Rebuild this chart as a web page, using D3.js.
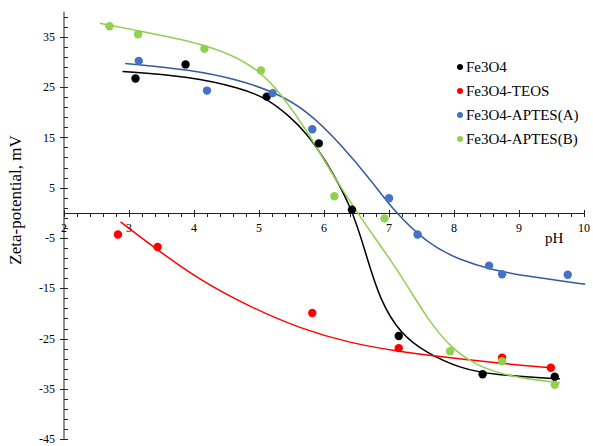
<!DOCTYPE html>
<html>
<head>
<meta charset="utf-8">
<script src="https://cdnjs.cloudflare.com/ajax/libs/d3/7.8.5/d3.min.js"></script>
<style>
  body { margin: 0; background: #fff; }
  text { font-family: "Liberation Serif", "Times New Roman", serif; }
</style>
</head>
<body>
<div class="chart"></div>
<script>
var w = 593,
  h = 446;

// measured points (pH, zeta potential mV)
var phFe3O4 = [3.1, 3.87, 5.12, 5.92, 6.43, 7.15, 8.44, 9.55];
var zetaFe3O4 = [26.7, 29.5, 23.1, 13.8, 0.6, -24.5, -32.1, -32.6];

var phTeos = [2.83, 3.44, 5.82, 7.15, 8.74, 9.49];
var zetaTeos = [-4.3, -6.8, -19.9, -26.9, -28.8, -30.8];

var phAptesA = [3.15, 4.2, 5.21, 5.82, 7.0, 7.44, 8.54, 8.74, 9.75];
var zetaAptesA = [30.2, 24.3, 23.8, 16.6, 2.9, -4.3, -10.5, -12.2, -12.3];

var phAptesB = [2.7, 3.14, 4.16, 5.03, 6.16, 6.93, 7.94, 8.74, 9.55];
var zetaAptesB = [37.1, 35.5, 32.6, 28.3, 3.3, -1.1, -27.5, -29.5, -34.2];

// trend lines
var fitPhFe3O4 = [2.9, 3.94, 4.71, 5.12, 5.48, 5.73, 5.99, 6.43, 6.65, 6.86, 7.17, 7.58, 8.09, 8.6, 9.63];
var fitZetaFe3O4 = [28.1, 27.1, 24.8, 22.8, 19.1, 15.8, 11.2, 1.2, -8.5, -17.3, -24, -27.9, -30.9, -32.2, -33.0];

var fitPhTeos = [2.87, 3.44, 4.09, 4.86, 5.63, 6.4, 7.17, 7.58, 8.6, 9.5];
var fitZetaTeos = [-1.8, -7.4, -13.4, -18.7, -23.0, -25.9, -27.6, -28.3, -29.8, -30.8];

var fitPhAptesA = [2.94, 3.94, 4.71, 5.27, 5.73, 6.25, 6.76, 7.02, 7.58, 8.09, 8.6, 9.12, 10.02];
var fitZetaAptesA = [29.7, 28.5, 26.4, 23.8, 20.4, 13.8, 5.9, 1.2, -6.1, -9.4, -11.4, -12.6, -14.2];

var fitPhAptesB = [2.55, 3.14, 3.94, 4.55, 5.03, 5.37, 5.73, 6.09, 6.5, 7.07, 7.32, 7.58, 7.94, 8.35, 8.86, 9.63];
var fitZetaAptesB = [37.7, 36.2, 34.2, 31.7, 28.1, 23.1, 16.5, 8.5, 0.2, -10.2, -15.3, -20.8, -26.8, -30.4, -32.6, -33.8];

var names = ['Fe3O4', 'Fe3O4-TEOS', 'Fe3O4-APTES(A)', 'Fe3O4-APTES(B)'];
var dotColors = ['#000000', '#ff0000', '#4472c4', '#92d050'];
var lineColors = ['#000000', '#ff0000', '#355a9b', '#92d050'];

var xMajor = [2, 3, 4, 5, 6, 7, 8, 9, 10];
var yMajor = [35, 25, 15, 5, -5, -15, -25, -35, -45];

var zip = function (xs, ys) {
  return xs.map(function (x, i) { return [x, ys[i]]; });
};

var series = [
  { pts: zip(phFe3O4, zetaFe3O4), fit: zip(fitPhFe3O4, fitZetaFe3O4) },
  { pts: zip(phTeos, zetaTeos), fit: zip(fitPhTeos, fitZetaTeos) },
  { pts: zip(phAptesA, zetaAptesA), fit: zip(fitPhAptesA, fitZetaAptesA) },
  { pts: zip(phAptesB, zetaAptesB), fit: zip(fitPhAptesB, fitZetaAptesB) }
];

var x = d3.scaleLinear().domain([2, 10]).range([64, 584]);
var y = d3.scaleLinear().domain([-45, 40]).range([439.2, 11.6]);

var svg = d3.select('.chart')
  .append('svg')
  .attr('width', w)
  .attr('height', h);

// y axis: minor ticks every 2 units on the right, majors cross
var yAxisG = svg.append('g').attr('transform', 'translate(' + x(2) + ',0)');
yAxisG.append('line')
  .attr('y1', y(40)).attr('y2', y(-45))
  .attr('stroke', '#222').attr('stroke-width', 1);
yAxisG.selectAll('.minor')
  .data(d3.range(-43, 40, 2))
  .enter().append('line')
  .attr('x1', 0).attr('x2', 4)
  .attr('y1', function (d) { return Math.round(y(d)) + 0.5; })
  .attr('y2', function (d) { return Math.round(y(d)) + 0.5; })
  .attr('stroke', '#222');
yAxisG.selectAll('.major')
  .data(yMajor)
  .enter().append('line')
  .attr('x1', -4).attr('x2', 4)
  .attr('y1', function (d) { return Math.round(y(d)) + 0.5; })
  .attr('y2', function (d) { return Math.round(y(d)) + 0.5; })
  .attr('stroke', '#222');
yAxisG.selectAll('text')
  .data(yMajor)
  .enter().append('text')
  .attr('x', -9)
  .attr('y', function (d) { return y(d); })
  .attr('dy', '0.35em')
  .attr('text-anchor', 'end')
  .attr('font-size', '12px')
  .text(function (d) { return d; });

// x axis at zero
var xAxisG = svg.append('g').attr('transform', 'translate(0,' + (Math.round(y(0)) + 0.5) + ')');
xAxisG.append('line')
  .attr('x1', x(2)).attr('x2', x(10))
  .attr('stroke', '#222');
xAxisG.selectAll('.minor')
  .data(d3.range(2, 10.01, 0.2))
  .enter().append('line')
  .attr('x1', function (d) { return Math.round(x(d)) + 0.5; })
  .attr('x2', function (d) { return Math.round(x(d)) + 0.5; })
  .attr('y1', 0).attr('y2', 3.5)
  .attr('stroke', '#222');
xAxisG.selectAll('.major')
  .data(xMajor)
  .enter().append('line')
  .attr('x1', function (d) { return Math.round(x(d)) + 0.5; })
  .attr('x2', function (d) { return Math.round(x(d)) + 0.5; })
  .attr('y1', -3.5).attr('y2', 3.5)
  .attr('stroke', '#222');
xAxisG.selectAll('text')
  .data(xMajor)
  .enter().append('text')
  .attr('x', function (d) { return x(d); })
  .attr('y', 18)
  .attr('text-anchor', 'middle')
  .attr('font-size', '12px')
  .text(function (d) { return d; });

svg.append('text')
  .attr('x', 545).attr('y', 243)
  .attr('font-size', '15px')
  .text('pH');

svg.append('text')
  .attr('transform', 'translate(21,200) rotate(-90)')
  .attr('text-anchor', 'middle')
  .attr('font-size', '17px')
  .text('Zeta-potential, mV');

// trend lines
var line = d3.line()
  .x(function (d) { return x(d[0]); })
  .y(function (d) { return y(d[1]); })
  .curve(d3.curveBasis);

svg.selectAll('.fit')
  .data(series)
  .enter().append('path')
  .attr('class', 'fit')
  .attr('d', function (d) { return line(d.fit); })
  .attr('fill', 'none')
  .attr('stroke', function (d, i) { return lineColors[i]; })
  .attr('stroke-width', 1.5);

// data points
series.forEach(function (s, i) {
  svg.selectAll('.pt' + i)
    .data(s.pts)
    .enter().append('circle')
    .attr('cx', function (d) { return x(d[0]); })
    .attr('cy', function (d) { return y(d[1]); })
    .attr('r', 4.2)
    .attr('fill', dotColors[i]);
});

// legend
var legend = svg.selectAll('.legend')
  .data(names)
  .enter().append('g')
  .attr('transform', function (d, i) { return 'translate(460,' + (67 + i * 24) + ')'; });
legend.append('circle')
  .attr('r', 3)
  .attr('fill', function (d, i) { return dotColors[i]; });
legend.append('text')
  .attr('x', 6)
  .attr('dy', '0.35em')
  .attr('font-size', '15px')
  .text(function (d) { return d; });
</script>
</body>
</html>
